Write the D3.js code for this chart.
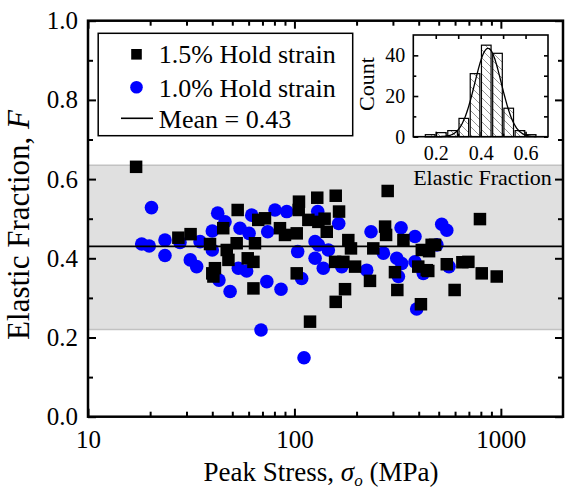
<!DOCTYPE html>
<html><head><meta charset="utf-8">
<script src="https://cdn.jsdelivr.net/npm/d3@7"></script>
<style>
body{margin:0;background:#fff}
svg{display:block}
text{font-family:"Liberation Serif","Times New Roman",serif;fill:#000}
</style>
</head><body><svg id="c" width="566" height="492"></svg>
<script>
// ---------- data ----------
const squareStress = [17.1, 27.4, 31.4, 39.0, 40.0, 45.2, 53.1, 47.0, 52.5, 47.9, 41.2, 40.5, 59.4, 63.3, 64.4, 63.3, 119, 66.8, 72.0, 85.1, 90.0, 102.6, 105.2, 104.9, 129, 116.8, 130.6, 102.6, 158.5, 283, 164.5, 140, 143.4, 157.4, 172.6, 196.7, 182.4, 187.9, 175.8, 158.5, 232.3, 241, 274.9, 278, 337.3, 306.9, 315.1, 414, 398, 437.5, 410, 462, 792, 480, 449, 445, 547, 651, 696, 808, 955, 597];
const squareF = [0.631, 0.452, 0.461, 0.436, 0.362, 0.476, 0.522, 0.421, 0.438, 0.396, 0.375, 0.354, 0.400, 0.391, 0.438, 0.324, 0.240, 0.497, 0.501, 0.476, 0.459, 0.463, 0.543, 0.522, 0.553, 0.497, 0.492, 0.362, 0.558, 0.570, 0.518, 0.500, 0.467, 0.391, 0.391, 0.379, 0.446, 0.425, 0.322, 0.290, 0.343, 0.425, 0.480, 0.459, 0.446, 0.365, 0.320, 0.421, 0.379, 0.370, 0.284, 0.434, 0.499, 0.434, 0.418, 0.368, 0.385, 0.390, 0.391, 0.362, 0.354, 0.320];
const circleStress = [20.3, 18.2, 19.8, 23.6, 23.6, 27.9, 31.3, 33.6, 34.9, 42.5, 40.0, 46.1, 40.0, 54.5, 62.1, 43.1, 53.5, 58.7, 48.8, 73.5, 86.1, 68.9, 111.3, 74.2, 80.5, 91.8, 125.9, 103.7, 125.9, 108.4, 138, 129.7, 163.9, 130.6, 146, 169.5, 224, 235, 269.8, 328.6, 313, 331, 319, 383.7, 383.7, 421, 391, 517, 547, 490, 561, 60.3];
const circleF = [0.528, 0.436, 0.431, 0.446, 0.407, 0.440, 0.396, 0.379, 0.442, 0.514, 0.469, 0.492, 0.421, 0.476, 0.509, 0.345, 0.375, 0.368, 0.316, 0.341, 0.322, 0.219, 0.149, 0.467, 0.522, 0.518, 0.442, 0.417, 0.400, 0.349, 0.375, 0.518, 0.488, 0.434, 0.421, 0.379, 0.370, 0.467, 0.413, 0.477, 0.400, 0.387, 0.354, 0.455, 0.391, 0.362, 0.272, 0.486, 0.471, 0.434, 0.379, 0.463];
const meanF = 0.43;
const bandLow = 0.22, bandHigh = 0.635;
const xMajorTicks = [10, 100, 1000];
const xMinorTicks = [20, 30, 40, 50, 60, 70, 80, 90, 200, 300, 400, 500, 600, 700, 800, 900];
const yMajorTicks = [0, 0.2, 0.4, 0.6, 0.8, 1.0];
const yMinorTicks = [0.1, 0.3, 0.5, 0.7, 0.9];
const legendLabels = ["1.5% Hold strain", "1.0% Hold strain", "Mean = 0.43"];
// inset histogram
const binStart = [0.15, 0.20, 0.25, 0.30, 0.35, 0.40, 0.45, 0.50, 0.55, 0.60];
const binCount = [1, 2, 3, 9, 31, 45, 41, 14, 3, 1];
const binWidth = 0.05;
const fitCenter = 0.433, fitSigma = 0.059, fitPeak = 43.5;
const insetXTicks = [0.2, 0.4, 0.6];
const insetXMinor = [0.3, 0.5];
const insetYTicks = [0, 20, 40];
const insetYMinor = [10, 30];

// ---------- drawing ----------
const svg = d3.select("#c");
const FONT = '"Liberation Serif","Times New Roman",serif';
const M = {l: 88, r: 563, t: 20.7, b: 416.7};
const x = d3.scaleLog().domain([10, 2000]).range([M.l, M.r]);
const y = d3.scaleLinear().domain([0, 1]).range([M.b, M.t]);

const defs = svg.append("defs");
defs.append("pattern").attr("id", "hatch").attr("patternUnits", "userSpaceOnUse")
  .attr("width", 8).attr("height", 8)
  .append("path").attr("d", "M0,0 L8,8 M-1,7 L1,9 M7,-1 L9,1")
  .attr("stroke", "#8a8a8a").attr("stroke-width", 0.9);

// band
svg.append("rect").attr("x", M.l).attr("width", M.r - M.l)
  .attr("y", y(bandHigh)).attr("height", y(bandLow) - y(bandHigh)).attr("fill", "#e0e0e0");
[bandHigh, bandLow].forEach(v => svg.append("line").attr("x1", M.l).attr("x2", M.r)
  .attr("y1", y(v)).attr("y2", y(v)).attr("stroke", "#c2c2c2").attr("stroke-width", 1.5));

// circles
const circles = circleStress.map((s, i) => ({s, f: circleF[i]}));
svg.append("g").selectAll("circle").data(circles).join("circle")
  .attr("cx", d => x(d.s)).attr("cy", d => y(d.f)).attr("r", 6.8).attr("fill", "#0000ff");

// mean line
svg.append("line").attr("x1", M.l).attr("x2", M.r).attr("y1", y(meanF)).attr("y2", y(meanF))
  .attr("stroke", "#000").attr("stroke-width", 1.6);

// squares
const SQ = 12.5;
const squares = squareStress.map((s, i) => ({s, f: squareF[i]}));
svg.append("g").selectAll("rect").data(squares).join("rect")
  .attr("x", d => x(d.s) - SQ / 2).attr("y", d => y(d.f) - SQ / 2)
  .attr("width", SQ).attr("height", SQ).attr("fill", "#000");

// axes
function styleAxis(g, fs) {
  g.select(".domain").remove();
  g.selectAll(".tick line").attr("stroke", "#000").attr("stroke-width", 2);
  g.selectAll("text").attr("font-size", fs).attr("font-family", FONT).attr("fill", "#000");
}
const fmtX = d => String(d);
const fmtY = d3.format(".1f");
// bottom
svg.append("g").attr("transform", `translate(0,${M.b})`)
  .call(d3.axisBottom(x).tickValues(xMajorTicks).tickFormat(fmtX).tickSizeInner(-8).tickSizeOuter(0).tickPadding(14))
  .call(g => styleAxis(g, 25));
svg.append("g").attr("transform", `translate(0,${M.b})`)
  .call(d3.axisBottom(x).tickValues(xMinorTicks).tickFormat("").tickSizeInner(-5).tickSizeOuter(0))
  .call(g => styleAxis(g, 25));
// top
svg.append("g").attr("transform", `translate(0,${M.t})`)
  .call(d3.axisTop(x).tickValues(xMajorTicks).tickFormat("").tickSizeInner(-8).tickSizeOuter(0))
  .call(g => styleAxis(g, 25));
svg.append("g").attr("transform", `translate(0,${M.t})`)
  .call(d3.axisTop(x).tickValues(xMinorTicks).tickFormat("").tickSizeInner(-5).tickSizeOuter(0))
  .call(g => styleAxis(g, 25));
// left
svg.append("g").attr("transform", `translate(${M.l},0)`)
  .call(d3.axisLeft(y).tickValues(yMajorTicks).tickFormat(fmtY).tickSizeInner(-8).tickSizeOuter(0).tickPadding(10))
  .call(g => styleAxis(g, 25));
svg.append("g").attr("transform", `translate(${M.l},0)`)
  .call(d3.axisLeft(y).tickValues(yMinorTicks).tickFormat("").tickSizeInner(-5).tickSizeOuter(0))
  .call(g => styleAxis(g, 25));
// right
svg.append("g").attr("transform", `translate(${M.r},0)`)
  .call(d3.axisRight(y).tickValues(yMajorTicks).tickFormat("").tickSizeInner(-8).tickSizeOuter(0))
  .call(g => styleAxis(g, 25));
svg.append("g").attr("transform", `translate(${M.r},0)`)
  .call(d3.axisRight(y).tickValues(yMinorTicks).tickFormat("").tickSizeInner(-5).tickSizeOuter(0))
  .call(g => styleAxis(g, 25));
// frame
svg.append("rect").attr("x", M.l).attr("y", M.t).attr("width", M.r - M.l).attr("height", M.b - M.t)
  .attr("fill", "none").attr("stroke", "#000").attr("stroke-width", 2.5);

// axis titles
const xt = svg.append("text").attr("x", 321).attr("y", 481).attr("text-anchor", "middle")
  .attr("font-size", 27);
xt.append("tspan").text("Peak Stress, ");
xt.append("tspan").attr("font-style", "italic").text("σ");
xt.append("tspan").attr("font-style", "italic").attr("font-size", 17).attr("dy", 5).text("o");
xt.append("tspan").attr("dy", -5).text(" (MPa)");

const yt = svg.append("text").attr("transform", "translate(29,225) rotate(-90)")
  .attr("text-anchor", "middle").attr("font-size", 31);
yt.append("tspan").text("Elastic Fraction, ");
yt.append("tspan").attr("font-style", "italic").text("F");

// legend
const lg = svg.append("g");
lg.append("rect").attr("x", 98.2).attr("y", 33.3).attr("width", 254.5).attr("height", 102.4)
  .attr("fill", "#fff").attr("stroke", "#000").attr("stroke-width", 1.5);
lg.append("rect").attr("x", 136.5 - 5.3).attr("y", 54.3 - 5.3).attr("width", 10.6).attr("height", 10.6).attr("fill", "#000");
lg.append("circle").attr("cx", 136.5).attr("cy", 87.3).attr("r", 6.3).attr("fill", "#0000ff");
lg.append("line").attr("x1", 121).attr("x2", 153).attr("y1", 118.3).attr("y2", 118.3).attr("stroke", "#000").attr("stroke-width", 1.6);
[63, 96.5, 127.5].forEach((by, i) => lg.append("text").attr("x", 158.8).attr("y", by)
  .attr("font-size", 26).text(legendLabels[i]));

// inset
const I = {l: 413.3, r: 548, t: 35, b: 136.7};
const xi = d3.scaleLinear().domain([0.1, 0.7]).range([I.l, I.r]);
const yi = d3.scaleLinear().domain([0, 50]).range([I.b, I.t]);
const ins = svg.append("g");
ins.append("rect").attr("x", I.l).attr("y", I.t).attr("width", I.r - I.l).attr("height", I.b - I.t).attr("fill", "#fff");
const bins = binStart.map((b, i) => ({b, c: binCount[i]}));
ins.append("g").selectAll("rect").data(bins).join("rect")
  .attr("x", d => xi(d.b) + 0.8).attr("width", d => xi(d.b + binWidth) - xi(d.b) - 1.6)
  .attr("y", d => yi(d.c)).attr("height", d => yi(0) - yi(d.c))
  .attr("fill", "url(#hatch)").attr("stroke", "#000").attr("stroke-width", 1.2);
const curveX = d3.range(0.15, 0.7001, 0.004);
const gauss = v => fitPeak * Math.exp(-0.5 * Math.pow((v - fitCenter) / fitSigma, 2));
ins.append("path").datum(curveX)
  .attr("d", d3.line().x(v => xi(v)).y(v => yi(gauss(v))).curve(d3.curveBasis))
  .attr("fill", "none").attr("stroke", "#000").attr("stroke-width", 1.3);

function styleInset(g, fs) {
  g.select(".domain").remove();
  g.selectAll(".tick line").attr("stroke", "#000").attr("stroke-width", 1.6);
  g.selectAll("text").attr("font-size", fs).attr("font-family", FONT).attr("fill", "#000");
}
ins.append("g").attr("transform", `translate(0,${I.b})`)
  .call(d3.axisBottom(xi).tickValues(insetXTicks).tickFormat(d3.format(".1f")).tickSizeInner(-5).tickSizeOuter(0).tickPadding(9))
  .call(g => styleInset(g, 20));
ins.append("g").attr("transform", `translate(0,${I.b})`)
  .call(d3.axisBottom(xi).tickValues(insetXMinor).tickFormat("").tickSizeInner(-3).tickSizeOuter(0))
  .call(g => styleInset(g, 20));
ins.append("g").attr("transform", `translate(0,${I.t})`)
  .call(d3.axisTop(xi).tickValues(insetXTicks.concat(insetXMinor)).tickFormat("").tickSizeInner(-4).tickSizeOuter(0))
  .call(g => styleInset(g, 20));
ins.append("g").attr("transform", `translate(${I.l},0)`)
  .call(d3.axisLeft(yi).tickValues(insetYTicks).tickFormat(d3.format("d")).tickSizeInner(-5).tickSizeOuter(0).tickPadding(8))
  .call(g => styleInset(g, 20));
ins.append("g").attr("transform", `translate(${I.l},0)`)
  .call(d3.axisLeft(yi).tickValues(insetYMinor).tickFormat("").tickSizeInner(-3).tickSizeOuter(0))
  .call(g => styleInset(g, 20));
ins.append("g").attr("transform", `translate(${I.r},0)`)
  .call(d3.axisRight(yi).tickValues(insetYTicks.concat(insetYMinor)).tickFormat("").tickSizeInner(-4).tickSizeOuter(0))
  .call(g => styleInset(g, 20));
ins.append("rect").attr("x", I.l).attr("y", I.t).attr("width", I.r - I.l).attr("height", I.b - I.t)
  .attr("fill", "none").attr("stroke", "#000").attr("stroke-width", 1.6);
ins.append("text").attr("transform", "translate(374,84) rotate(-90)").attr("text-anchor", "middle")
  .attr("font-size", 22).text("Count");
ins.append("text").attr("x", 482.5).attr("y", 185).attr("text-anchor", "middle")
  .attr("font-size", 22).text("Elastic Fraction");
</script>
</body></html>
